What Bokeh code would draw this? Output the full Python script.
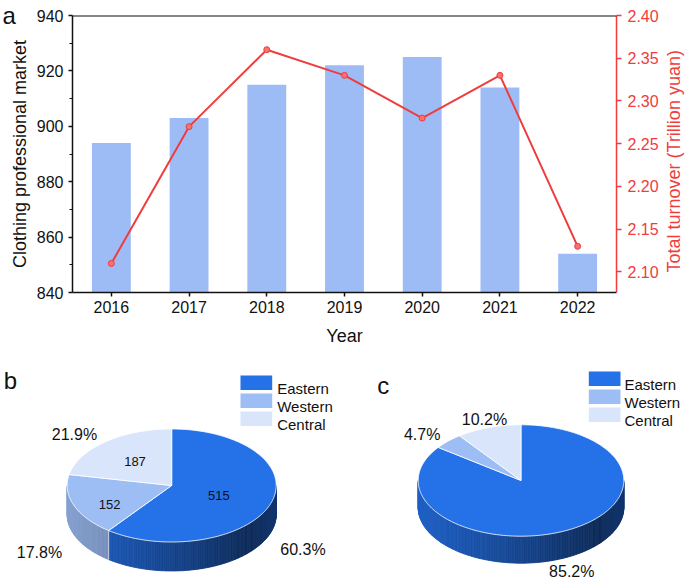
import math
import numpy as np
from bokeh.plotting import figure
from bokeh.models import (Range1d, LinearAxis, FixedTicker, PrintfTickFormatter,
                          Title, Span, ColumnDataSource, FactorRange, GlobalInlineStyleSheet)
from bokeh.embed import file_html
from bokeh.resources import INLINE
from bokeh.core.properties import value

# ---------------- data ----------------
years = ["2016", "2017", "2018", "2019", "2020", "2021", "2022"]
market_count = [894, 903, 915, 922, 925, 914, 854]
turnover = [2.11, 2.27, 2.36, 2.33, 2.28, 2.33, 2.13]
left_ticks = [840, 860, 880, 900, 920, 940]
left_minor = [850, 870, 890, 910, 930]
right_ticks = [2.10, 2.15, 2.20, 2.25, 2.30, 2.35, 2.40]

regions = ["Eastern", "Western", "Central"]
markets_by_region = [515, 152, 187]
pct_markets = [60.3, 17.8, 21.9]
pct_turnover = [85.2, 4.7, 10.2]

# ---------------- styles ----------------
FONT = "Liberation Sans"
BLACK = "#111111"
RED = "#F03C3C"
BAR = "#9DBCF5"
PIE_COLORS = ["#2471E8", "#9DBDF5", "#D8E5FB"]

# ---------------- top chart (a) ----------------
p = figure(x_range=FactorRange(*years), y_range=Range1d(840, 940),
           frame_width=544, frame_height=277,
           min_border_left=72, min_border_right=69, min_border_top=15, min_border_bottom=58,
           toolbar_location=None, output_backend="svg", outline_line_color=None)
p.stylesheets = [GlobalInlineStyleSheet(css="html, body { overflow: hidden; }")]
p.extra_y_ranges = {"turn": Range1d(2.076, 2.40)}
p.grid.visible = False

src = ColumnDataSource(dict(year=years, market=market_count, turnover=turnover))
p.vbar(x="year", top="market", bottom=0, width=0.5, source=src,
       fill_color=BAR, line_color=None)
p.line(x="year", y="turnover", source=src, y_range_name="turn",
       line_color=RED, line_width=2)
p.scatter(x="year", y="turnover", source=src, y_range_name="turn", size=6,
          fill_color="#F87070", line_color=RED, line_width=1)

def style_axis(ax, color):
    ax.axis_line_color = color
    ax.axis_line_width = 1.5
    ax.major_tick_line_color = color
    ax.major_tick_line_width = 1.5
    ax.minor_tick_line_color = color
    ax.minor_tick_line_width = 1.2
    ax.major_tick_in = 0
    ax.minor_tick_in = 0
    ax.major_label_text_font = FONT
    ax.major_label_text_font_size = "16px"
    ax.major_label_text_color = color
    ax.axis_label_text_font = FONT
    ax.axis_label_text_font_size = "18px"
    ax.axis_label_text_font_style = "normal"
    ax.axis_label_text_color = color

yl = p.yaxis[0]
style_axis(yl, BLACK)
yl.ticker = FixedTicker(ticks=left_ticks, minor_ticks=left_minor)
yl.major_tick_out = 4
yl.minor_tick_out = 3
yl.major_label_standoff = 5
yl.axis_label = "Clothing professional market"
yl.axis_label_standoff = 4

xa = p.xaxis[0]
style_axis(xa, BLACK)
xa.major_tick_out = 4
xa.major_label_standoff = 4
xa.axis_label = "Year"
xa.axis_label_standoff = 10

RIGHT_TITLE = "Total turnover (Trillion yuan)"
yr = LinearAxis(y_range_name="turn", ticker=FixedTicker(ticks=right_ticks),
                formatter=PrintfTickFormatter(format="%.2f"))
style_axis(yr, RED)
yr.major_tick_out = 5
yr.minor_tick_out = 0
yr.major_label_standoff = 6
props = yr.properties()
if "axis_label_orientation" in props and "axis_label_align" in props:
    # read bottom-to-top like the reference; the text starts at the lower end
    yr.axis_label = "\u00a0" * 4 + RIGHT_TITLE
    yr.axis_label_orientation = math.pi / 2
    yr.axis_label_align = "start"
    yr.axis_label_standoff = 12
else:
    yr.axis_label = RIGHT_TITLE
    yr.axis_label_standoff = 3
p.add_layout(yr, "right")

p.add_layout(Span(location=p.y_range.end, dimension="width",
                  line_color=BLACK, line_width=2))

p.add_layout(Title(text="a", align="left", vertical_align="middle", offset=-70,
                   standoff=-40, text_font=FONT, text_font_size="24px",
                   text_font_style="normal", text_color=BLACK), "above")

# ---------------- bottom pies (b, c) ----------------
# coordinates are page pixels
q = figure(width=685, height=230, x_range=Range1d(0, 685), y_range=Range1d(580, 350),
           toolbar_location=None, output_backend="svg", min_border=0,
           x_axis_location=None, y_axis_location=None, outline_line_color=None)
q.grid.visible = False

SHADE_T = [0.0, 0.3, 0.6, 0.88, 1.0]
SHADE_F = [0.85, 0.72, 0.55, 0.38, 0.48]

def shade(hex_color, f):
    r, g, b = int(hex_color[1:3], 16), int(hex_color[3:5], 16), int(hex_color[5:7], 16)
    return "#%02x%02x%02x" % (round(r * f), round(g * f), round(b * f))

def draw_pie(fig, values, cx, cy, rx, ry, depth):
    total = float(sum(values))
    cum = np.concatenate([[0.0], np.cumsum(values) / total * 360.0])
    ranges = [(cum[i], cum[i + 1]) for i in range(len(values))]

    def pt(phi):
        th = math.radians(90.0 - phi)
        return cx + rx * math.cos(th), cy - ry * math.sin(th)

    xs, ys, cols = [], [], []
    for i, (a, b) in enumerate(ranges):
        s0, s1 = max(a, 90.0), min(b, 270.0)
        if s1 <= s0:
            continue
        n = max(2, int(s1 - s0) + 2)
        phis = np.linspace(s0, s1, n)
        for k in range(n - 1):
            x1, y1 = pt(phis[k])
            x2, y2 = pt(phis[k + 1])
            xs.append([x1, x2, x2, x1])
            ys.append([y1, y2, y2 + depth, y1 + depth])
            t = ((x1 + x2) / 2 - (cx - rx)) / (2 * rx)
            cols.append(shade(PIE_COLORS[i], float(np.interp(t, SHADE_T, SHADE_F))))
    fig.patches(xs, ys, fill_color=cols, line_color=cols, line_width=0.8)

    for i, (a, b) in enumerate(ranges):
        if 90.0 < a < 270.0:
            x0, y0 = pt(a)
            fig.line([x0, x0], [y0, y0 + depth], line_color="white", line_alpha=0.6, line_width=1)

    txs, tys = [], []
    for i, (a, b) in enumerate(ranges):
        phis = np.linspace(a, b, max(2, int(b - a) + 2))
        pts = [pt(f) for f in phis]
        txs.append([cx] + [u for u, _ in pts])
        tys.append([cy] + [v for _, v in pts])
    fig.patches(txs, tys, fill_color=PIE_COLORS[:len(values)], line_color="white",
                line_width=1, line_alpha=0.8)

def draw_legend(fig, x0, x1, yc, text_x):
    fig.rect(x=[(x0 + x1) / 2] * len(regions), y=yc, width=x1 - x0, height=14.5,
             fill_color=PIE_COLORS, line_color=None)
    fig.text(x=[text_x] * len(regions), y=[v + 5.4 for v in yc], text=regions,
             text_font=value(FONT), text_font_size="15px", text_align="left",
             text_baseline="alphabetic", text_color=BLACK)

# pie b
draw_pie(q, markets_by_region, 171.2, 485.0, 104.5, 56.5, 29)
q.text(x=[302.5, 39, 74], y=[549.0, 552.4, 433.7], text=[f"{v}%" for v in pct_markets],
       text_font=value(FONT), text_font_size="16px", text_align="center",
       text_baseline="alphabetic", text_color=BLACK)
q.text(x=[218.3, 109.2, 134.5], y=[495.4, 503.7, 461.4], text=[str(v) for v in markets_by_region],
       text_font=value(FONT), text_font_size="13px", text_align="center",
       text_baseline="alphabetic", text_color=BLACK)
draw_legend(q, 240.0, 271.7, [382.2, 400.2, 418.2], 276.7)

# pie c
draw_pie(q, pct_turnover, 520.5, 480.0, 102.8, 55.7, 27)
q.text(x=[571.3, 421.7, 484.0], y=[571.0, 434.0, 419.0], text=[f"{v}%" for v in pct_turnover],
       text_font=value(FONT), text_font_size="16px", text_align="center",
       text_baseline="alphabetic", text_color=BLACK)
draw_legend(q, 588.3, 620.0, [378.2, 396.2, 414.2], 624.0)

# panel letters
q.text(x=[3.3, 376.7], y=[380.0, 385.0], text=["b", "c"], text_font=value(FONT),
       text_font_size="24px", text_align="left", text_baseline="alphabetic", text_color=BLACK)

open("out.html", "w").write(file_html([p, q], INLINE))
